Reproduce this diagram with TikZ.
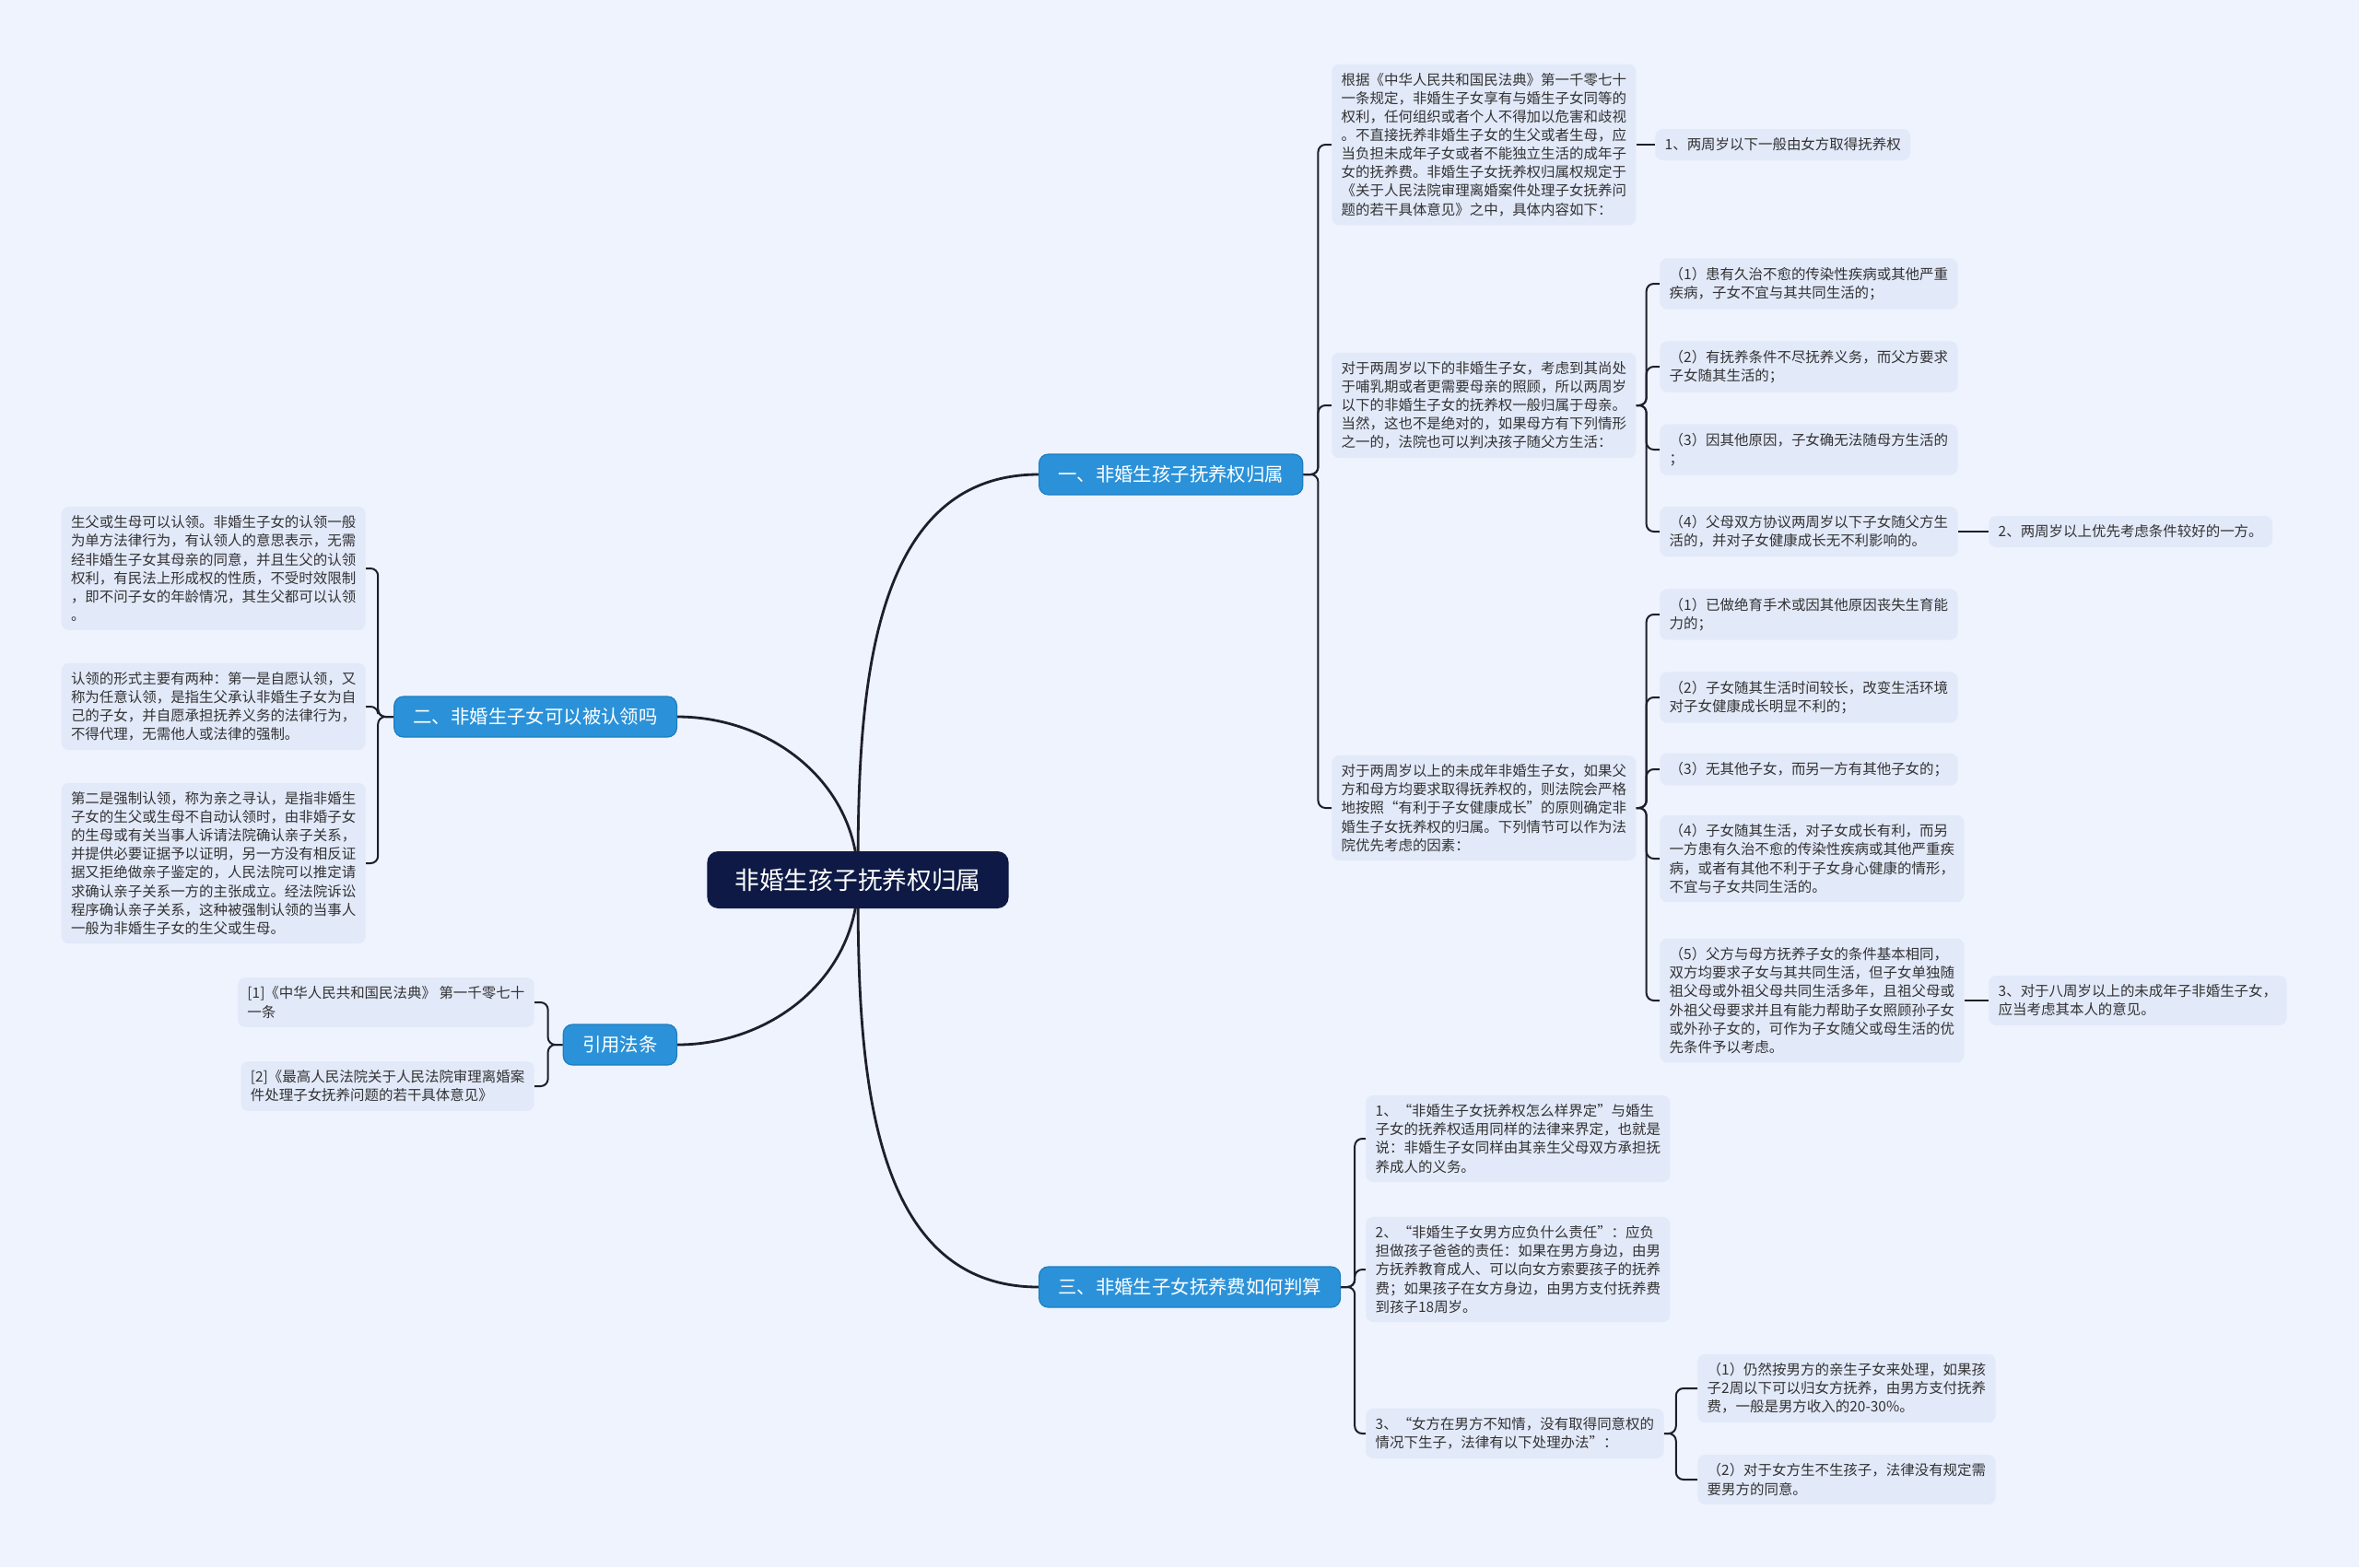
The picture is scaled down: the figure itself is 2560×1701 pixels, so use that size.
\documentclass[tikz,border=0pt]{standalone}
\usepackage{fontspec}
\setmainfont{Noto Sans CJK SC}
\usetikzlibrary{backgrounds}
\definecolor{paper}{HTML}{EEF3FD}
\definecolor{navy}{HTML}{0E1A45}
\definecolor{topicblue}{HTML}{2B92D9}
\definecolor{topicedge}{HTML}{1C7DC2}
\definecolor{leaffill}{HTML}{E2E9F9}
\definecolor{ink}{HTML}{333333}
\definecolor{wire}{HTML}{1E1E2C}
\tikzset{
  rootbox/.style={fill=navy, text=white, rounded corners=3mm,
                  font=\fontsize{19}{23}\selectfont, inner xsep=7.5mm, minimum height=15.5mm},
  topic/.style={fill=topicblue, draw=topicedge, line width=0.3mm, text=white, rounded corners=2.5mm,
                font=\fontsize{14.5}{17}\selectfont, inner xsep=5.2mm, minimum height=11mm},
  leaf/.style={fill=leaffill, text=ink, rounded corners=2mm, align=left,
               font=\fontsize{11}{14.3}\selectfont, inner xsep=2.6mm, inner ysep=2.4mm},
  link/.style={draw=wire, line width=0.5mm, rounded corners=2mm},
  trunk/.style={draw=wire, line width=0.7mm}
}

\begin{document}
\begin{tikzpicture}[x=0.25mm,y=-0.25mm]
  \node[rootbox] (root) at (931,955) {非婚生孩子抚养权归属};
  \node[topic, anchor=west] (custody) at (1127,515) {一、非婚生孩子抚养权归属};
  \node[topic, anchor=east] (claim) at (735,778) {二、非婚生子女可以被认领吗};
  \node[topic, anchor=east] (cite) at (735,1134) {引用法条};
  \node[topic, anchor=west] (fee) at (1127,1397) {三、非婚生子女抚养费如何判算};

  % custody branch
  \node[leaf, anchor=west] (basis) at (1445,157)
    {根据《中华人民共和国民法典》第一千零七十\\一条规定，非婚生子女享有与婚生子女同等的\\权利，任何组织或者个人不得加以危害和歧视\\。不直接抚养非婚生子女的生父或者生母，应\\当负担未成年子女或者不能独立生活的成年子\\女的抚养费。非婚生子女抚养权归属权规定于\\《关于人民法院审理离婚案件处理子女抚养问\\题的若干具体意见》之中，具体内容如下：};
  \node[leaf, anchor=west] (ageone) at (1796,157) {1、两周岁以下一般由女方取得抚养权};
  \node[leaf, anchor=west] (young) at (1445,440)
    {对于两周岁以下的非婚生子女，考虑到其尚处\\于哺乳期或者更需要母亲的照顾，所以两周岁\\以下的非婚生子女的抚养权一般归属于母亲。\\当然，这也不是绝对的，如果母方有下列情形\\之一的，法院也可以判决孩子随父方生活：};
  \node[leaf, anchor=west] (ya) at (1801,308) {（1）患有久治不愈的传染性疾病或其他严重\\疾病，子女不宜与其共同生活的；};
  \node[leaf, anchor=west] (yb) at (1801,398) {（2）有抚养条件不尽抚养义务，而父方要求\\子女随其生活的；};
  \node[leaf, anchor=west] (yc) at (1801,488) {（3）因其他原因，子女确无法随母方生活的\\；};
  \node[leaf, anchor=west] (yd) at (1801,577) {（4）父母双方协议两周岁以下子女随父方生\\活的，并对子女健康成长无不利影响的。};
  \node[leaf, anchor=west] (agetwo) at (2158,577) {2、两周岁以上优先考虑条件较好的一方。};
  \node[leaf, anchor=west] (older) at (1445,877)
    {对于两周岁以上的未成年非婚生子女，如果父\\方和母方均要求取得抚养权的，则法院会严格\\地按照“有利于子女健康成长”的原则确定非\\婚生子女抚养权的归属。下列情节可以作为法\\院优先考虑的因素：};
  \node[leaf, anchor=west] (oa) at (1801,667) {（1）已做绝育手术或因其他原因丧失生育能\\力的；};
  \node[leaf, anchor=west] (ob) at (1801,757) {（2）子女随其生活时间较长，改变生活环境\\对子女健康成长明显不利的；};
  \node[leaf, anchor=west] (oc) at (1801,835) {（3）无其他子女，而另一方有其他子女的；};
  \node[leaf, anchor=west] (od) at (1801,932)
    {（4）子女随其生活，对子女成长有利，而另\\一方患有久治不愈的传染性疾病或其他严重疾\\病，或者有其他不利于子女身心健康的情形，\\不宜与子女共同生活的。};
  \node[leaf, anchor=west] (oe) at (1801,1086)
    {（5）父方与母方抚养子女的条件基本相同，\\双方均要求子女与其共同生活，但子女单独随\\祖父母或外祖父母共同生活多年，且祖父母或\\外祖父母要求并且有能力帮助子女照顾孙子女\\或外孙子女的，可作为子女随父或母生活的优\\先条件予以考虑。};
  \node[leaf, anchor=west] (agethree) at (2158,1086) {3、对于八周岁以上的未成年子非婚生子女，\\应当考虑其本人的意见。};

  % claim branch
  \node[leaf, anchor=east] (acknow) at (397,617)
    {生父或生母可以认领。非婚生子女的认领一般\\为单方法律行为，有认领人的意思表示，无需\\经非婚生子女其母亲的同意，并且生父的认领\\权利，有民法上形成权的性质，不受时效限制\\，即不问子女的年龄情况，其生父都可以认领\\。};
  \node[leaf, anchor=east] (formvol) at (397,767)
    {认领的形式主要有两种：第一是自愿认领，又\\称为任意认领，是指生父承认非婚生子女为自\\己的子女，并自愿承担抚养义务的法律行为，\\不得代理，无需他人或法律的强制。};
  \node[leaf, anchor=east] (formforce) at (397,937)
    {第二是强制认领，称为亲之寻认，是指非婚生\\子女的生父或生母不自动认领时，由非婚子女\\的生母或有关当事人诉请法院确认亲子关系，\\并提供必要证据予以证明，另一方没有相反证\\据又拒绝做亲子鉴定的，人民法院可以推定请\\求确认亲子关系一方的主张成立。经法院诉讼\\程序确认亲子关系，这种被强制认领的当事人\\一般为非婚生子女的生父或生母。};

  % cite branch
  \node[leaf, anchor=east] (refone) at (580,1088) {[1]《中华人民共和国民法典》 第一千零七十\\一条};
  \node[leaf, anchor=east] (reftwo) at (580,1179) {[2]《最高人民法院关于人民法院审理离婚案\\件处理子女抚养问题的若干具体意见》};

  % fee branch
  \node[leaf, anchor=west] (define) at (1482,1236)
    {1、“非婚生子女抚养权怎么样界定”与婚生\\子女的抚养权适用同样的法律来界定，也就是\\说：非婚生子女同样由其亲生父母双方承担抚\\养成人的义务。};
  \node[leaf, anchor=west] (father) at (1482,1378)
    {2、“非婚生子女男方应负什么责任”：应负\\担做孩子爸爸的责任：如果在男方身边，由男\\方抚养教育成人、可以向女方索要孩子的抚养\\费；如果孩子在女方身边，由男方支付抚养费\\到孩子18周岁。};
  \node[leaf, anchor=west] (unaware) at (1482,1556)
    {3、“女方在男方不知情，没有取得同意权的\\情况下生子，法律有以下处理办法”：};
  \node[leaf, anchor=west] (keep) at (1842,1507)
    {（1）仍然按男方的亲生子女来处理，如果孩\\子2周以下可以归女方抚养，由男方支付抚养\\费，一般是男方收入的20-30\%。};
  \node[leaf, anchor=west] (noconsent) at (1842,1606) {（2）对于女方生不生孩子，法律没有规定需\\要男方的同意。};

  \begin{scope}[on background layer]
    \fill[paper] (0,0) rectangle (2560,1701);
    \draw[trunk] (root.center) to[out=90,in=180] (custody.west);
    \draw[trunk] (root.center) to[out=90,in=0] (claim.east);
    \draw[trunk] (root.center) to[out=-90,in=0] (cite.east);
    \draw[trunk] (root.center) to[out=-90,in=180] (fee.west);
    % brackets
    \draw[link] (custody.east) -- ++(16,0) |- (basis.west);
    \draw[link] (custody.east) -- ++(16,0) |- (young.west);
    \draw[link] (custody.east) -- ++(16,0) |- (older.west);
    \draw[link] (basis.east) -- (ageone.west);
    \draw[link] (young.east) -- ++(11,0) |- (ya.west);
    \draw[link] (young.east) -- ++(11,0) |- (yb.west);
    \draw[link] (young.east) -- ++(11,0) |- (yc.west);
    \draw[link] (young.east) -- ++(11,0) |- (yd.west);
    \draw[link] (yd.east) -- (agetwo.west);
    \draw[link] (older.east) -- ++(11,0) |- (oa.west);
    \draw[link] (older.east) -- ++(11,0) |- (ob.west);
    \draw[link] (older.east) -- ++(11,0) |- (oc.west);
    \draw[link] (older.east) -- ++(11,0) |- (od.west);
    \draw[link] (older.east) -- ++(11,0) |- (oe.west);
    \draw[link] (oe.east) -- (agethree.west);
    \draw[link] (claim.west) -- ++(-17,0) |- (acknow.east);
    \draw[link] (claim.west) -- ++(-17,0) |- (formvol.east);
    \draw[link] (claim.west) -- ++(-17,0) |- (formforce.east);
    \draw[link] (cite.west) -- ++(-16,0) |- (refone.east);
    \draw[link] (cite.west) -- ++(-16,0) |- (reftwo.east);
    \draw[link] (fee.east) -- ++(15,0) |- (define.west);
    \draw[link] (fee.east) -- ++(15,0) |- (father.west);
    \draw[link] (fee.east) -- ++(15,0) |- (unaware.west);
    \draw[link] (unaware.east) -- ++(13,0) |- (keep.west);
    \draw[link] (unaware.east) -- ++(13,0) |- (noconsent.west);
  \end{scope}
\end{tikzpicture}
\end{document}
